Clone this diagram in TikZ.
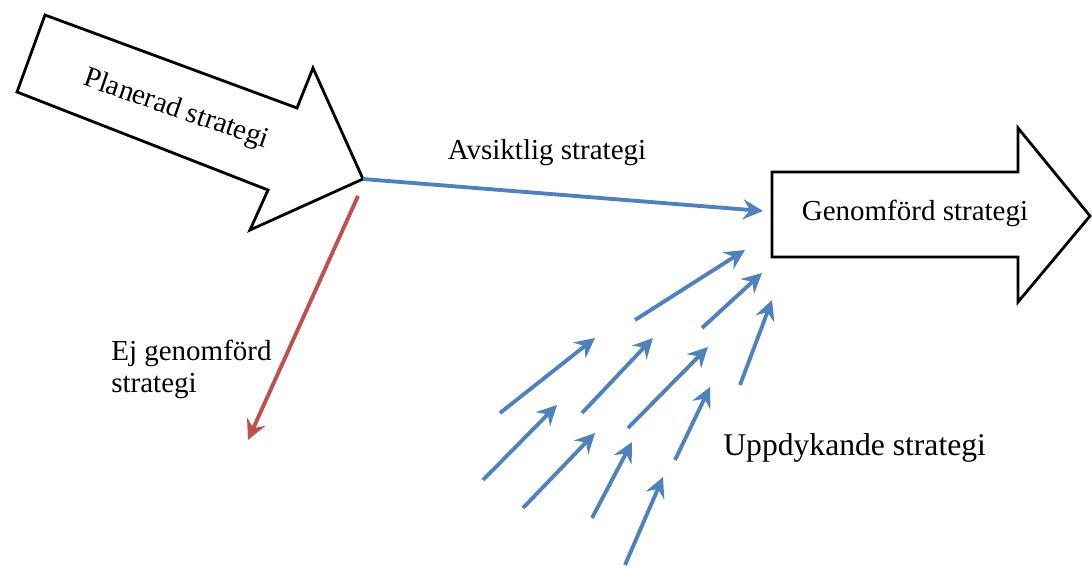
\documentclass[tikz,border=0pt]{standalone}
\usepackage{fontspec}
\setmainfont{Liberation Serif}
\usetikzlibrary{
    arrows.meta,
    calc,
}
\definecolor{flowblue}{RGB}{79,129,189}
\definecolor{flowred}{RGB}{192,80,77}

\begin{document}
\begin{tikzpicture}[
        x=0.02cm, y=-0.02cm,
        bigarrow/.style={draw=black, fill=white, line width=1.6pt, line join=miter},
        lbl/.style={font=\fontsize{16.5}{18.2}\selectfont, inner sep=0pt},
        biglbl/.style={font=\fontsize{18}{20}\selectfont, inner sep=0pt},
        flow/.style={draw=flowblue, line width=2.2pt, -{Stealth[length=4mm,width=4mm,inset=1.4mm]}},
        lost/.style={draw=flowred, line width=2.2pt, -{Stealth[length=4mm,width=4mm,inset=1.4mm]}}
        ]
        \useasboundingbox (0,0) rectangle (1092,568);
        % planned arrow
        \coordinate (P1) at (45,15);
        \coordinate (P2) at (297,108);
        \coordinate (P3) at (313,68);
        \coordinate (Ptip) at (363,179);
        \coordinate (P5) at (250,230);
        \coordinate (P6) at (268,190);
        \coordinate (P7) at (17,92);
        % realized arrow
        \coordinate (G1) at (772,172);
        \coordinate (G2) at (1018,172);
        \coordinate (G3) at (1018,128);
        \coordinate (Gtip) at (1090,216);
        \coordinate (G5) at (1018,302);
        \coordinate (G6) at (1018,257);
        \coordinate (G7) at (772,257);
        \coordinate (Gin) at (763,211);
        \coordinate (Rfrom) at (358,196);
        \coordinate (Rto) at (248,440);
        \draw[bigarrow] (P1) -- (P2) -- (P3) -- (Ptip) -- (P5) -- (P6) -- (P7) -- cycle;
        \draw[bigarrow] (G1) -- (G2) -- (G3) -- (Gtip) -- (G5) -- (G6) -- (G7) -- cycle;
        \node[lbl, rotate=-19]          (PLAN)  at (176,110) {Planerad strategi};
        \node[lbl]                      (REAL)  at (915,213) {Genomförd strategi};
        \node[lbl]                      (AVS)   at (547,153) {Avsiktlig strategi};
        \node[lbl, align=left, anchor=west] (EJ) at (111,369) {Ej genomförd\\strategi};
        \node[biglbl, anchor=base west] (UPP)   at (723,455) {Uppdykande strategi};
        \draw[flow] (Ptip) -- (Gin);
        \draw[lost] (Rfrom) -- (Rto);
        % emergent arrows
        \foreach \sx/\sy/\ex/\ey [count=\i] in {635/320/745/250, 702/328/762/273, 740/385/772/300,
                500/413/595/338, 582/413/653/338, 628/428/708/347, 675/460/710/387,
                483/480/557/405, 523/508/595/433, 592/518/632/442, 625/565/663/477}{
            \coordinate (E\i) at (\sx,\sy);
            \coordinate (F\i) at (\ex,\ey);
            \draw[flow] (E\i) -- (F\i);
        }
    \end{tikzpicture}
\end{document}
